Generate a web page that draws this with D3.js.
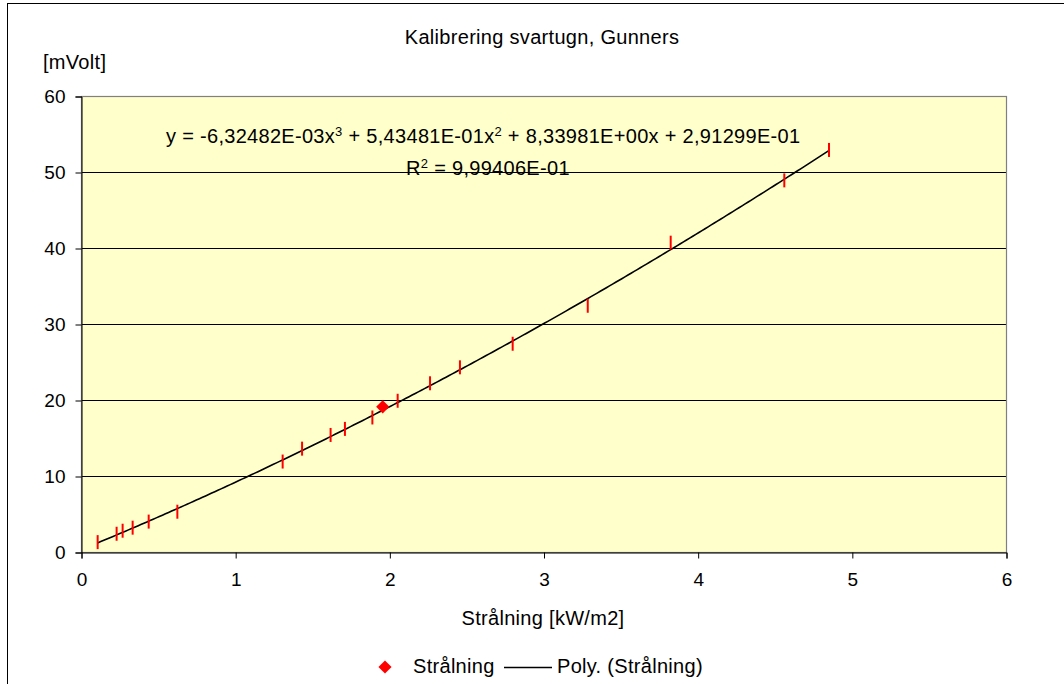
<!DOCTYPE html>
<html lang="sv">
<head>
<meta charset="UTF-8">
<title>Kalibrering svartugn, Gunners</title>
<script src="https://d3js.org/d3.v7.min.js"></script>
<style>
  body { margin: 0; background: #fff; }
  svg { display: block; font-family: "Liberation Sans", Arial, sans-serif; }
  .tick text { font-size: 19px; fill: #000; }
  .lbl { font-size: 20px; letter-spacing: 0.3px; fill: #000; }
</style>
</head>
<body>
<svg id="chart" width="1064" height="684"></svg>
<script>
// measured points (Strålning [kW/m2] -> mVolt)
const xVals = [0.108, 0.231, 0.270, 0.335, 0.439, 0.625, 1.308, 1.434, 1.619, 1.712, 1.890, 2.054, 2.264, 2.458, 2.800, 3.287, 3.825, 4.562, 4.852];
const yVals = [1.3, 2.4, 2.8, 3.2, 4.0, 5.3, 11.9, 13.6, 15.4, 16.2, 17.7, 19.9, 22.2, 24.3, 27.4, 32.4, 40.7, 48.9, 52.9];
// the one point drawn with a diamond marker
const diamondX = [1.957];
const diamondY = [19.1];
// trendline coefficients, highest power first (as printed on the chart)
const polyCoef = [-6.32482e-3, 5.43481e-1, 8.33981, 2.91299e-1];
const xTicks = [0, 1, 2, 3, 4, 5, 6];
const yTicks = [0, 10, 20, 30, 40, 50, 60];

const svg = d3.select("#chart");
const plot = { left: 81, right: 1006, top: 96, bottom: 552 };

const x = d3.scaleLinear().domain([0, 6]).range([plot.left, plot.right]);
const y = d3.scaleLinear().domain([0, 60]).range([plot.bottom, plot.top]);

// outer chart frame (runs past the picture on the right and bottom)
svg.append("rect")
  .attr("x", 7.5).attr("y", 3.5)
  .attr("width", 1100).attr("height", 720)
  .attr("fill", "#fff").attr("stroke", "#000").attr("stroke-width", 1);

// plot area
svg.append("rect")
  .attr("x", plot.left).attr("y", plot.top)
  .attr("width", plot.right - plot.left).attr("height", plot.bottom - plot.top)
  .attr("fill", "#ffffcc");

// gridlines
svg.append("g").selectAll("line")
  .data(yTicks.slice(1, -1))
  .enter().append("line")
  .attr("x1", plot.left).attr("x2", plot.right)
  .attr("y1", d => Math.round(y(d)) + 0.5).attr("y2", d => Math.round(y(d)) + 0.5)
  .attr("stroke", "#000").attr("stroke-width", 1);

svg.append("rect")
  .attr("x", plot.left + 0.5).attr("y", plot.top + 0.5)
  .attr("width", plot.right - plot.left).attr("height", plot.bottom - plot.top)
  .attr("fill", "none").attr("stroke", "#808080").attr("stroke-width", 1.2);

// axes
const xAxis = svg.append("g")
  .attr("transform", `translate(0.5,${plot.bottom + 0.5})`)
  .call(d3.axisBottom(x).tickValues(xTicks).tickSize(6).tickPadding(14).tickFormat(d3.format("d")));
const yAxis = svg.append("g")
  .attr("transform", `translate(${plot.left + 0.5},0.5)`)
  .call(d3.axisLeft(y).tickValues(yTicks).tickSize(6).tickPadding(10).tickFormat(d3.format("d")));
[xAxis, yAxis].forEach(g => {
  g.select(".domain").attr("stroke", "#000");
  g.selectAll(".tick line").attr("stroke", "#000");
  g.selectAll("text").style("font-family", "Liberation Sans, Arial, sans-serif");
});

// polynomial trendline
const poly = v => polyCoef.reduce((acc, c) => acc * v + c, 0);
const curveX = d3.range(d3.min(xVals), d3.max(xVals), 0.02).concat([d3.max(xVals)]);
svg.append("path")
  .datum(curveX)
  .attr("fill", "none").attr("stroke", "#000").attr("stroke-width", 1.6)
  .attr("d", d3.line().x(d => x(d)).y(d => y(poly(d))));

// point markers (red dashes)
svg.append("g").selectAll("line")
  .data(xVals.map((v, i) => [v, yVals[i]]))
  .enter().append("line")
  .attr("x1", d => x(d[0])).attr("x2", d => x(d[0]))
  .attr("y1", d => y(d[1]) - 7).attr("y2", d => y(d[1]) + 7)
  .attr("stroke", "#ff0000").attr("stroke-width", 2);

const diamond = d3.symbol().type(d3.symbolDiamond2).size(110);
svg.append("g").selectAll("path")
  .data(diamondX.map((v, i) => [v, diamondY[i]]))
  .enter().append("path")
  .attr("transform", d => `translate(${x(d[0])},${y(d[1])})`)
  .attr("d", diamond).attr("fill", "#ff0000");

// texts
svg.append("text").attr("class", "lbl")
  .attr("x", 542).attr("y", 44).attr("text-anchor", "middle")
  .text("Kalibrering svartugn, Gunners");
svg.append("text").attr("class", "lbl")
  .attr("x", 43).attr("y", 69)
  .text("[mVolt]");
svg.append("text").attr("class", "lbl")
  .attr("x", 543).attr("y", 625).attr("text-anchor", "middle")
  .text("Strålning [kW/m2]");

const fmt = v => {
  const [m, e] = v.toExponential(5).split("e");
  const ex = +e;
  return m.replace(".", ",") + "E" + (ex < 0 ? "-" : "+") + String(Math.abs(ex)).padStart(2, "0");
};
const eq = svg.append("text").attr("class", "lbl").attr("x", 166).attr("y", 143);
eq.append("tspan").text("y = " + fmt(polyCoef[0]) + "x");
eq.append("tspan").attr("dy", -7).style("font-size", "13px").text("3");
eq.append("tspan").attr("dy", 7).text(" + " + fmt(polyCoef[1]) + "x");
eq.append("tspan").attr("dy", -7).style("font-size", "13px").text("2");
eq.append("tspan").attr("dy", 7).text(" + " + fmt(polyCoef[2]) + "x + " + fmt(polyCoef[3]));

const r2 = svg.append("text").attr("class", "lbl").attr("x", 406).attr("y", 175);
r2.append("tspan").text("R");
r2.append("tspan").attr("dy", -7).style("font-size", "13px").text("2");
r2.append("tspan").attr("dy", 7).text(" = 9,99406E-01");

// legend
const legY = 667;
svg.append("path")
  .attr("transform", `translate(385,${legY})`)
  .attr("d", diamond).attr("fill", "#ff0000");
svg.append("text").attr("class", "lbl")
  .attr("x", 413).attr("y", legY + 6).text("Strålning");
svg.append("line")
  .attr("x1", 504).attr("x2", 552).attr("y1", legY + 0.5).attr("y2", legY + 0.5)
  .attr("stroke", "#000").attr("stroke-width", 1.5);
svg.append("text").attr("class", "lbl")
  .attr("x", 557).attr("y", legY + 6).text("Poly. (Strålning)");
</script>
</body>
</html>
